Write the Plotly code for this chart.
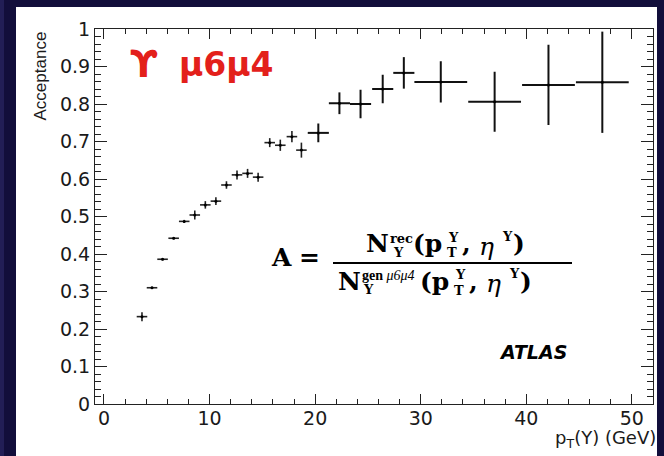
import plotly.graph_objects as go

# ---------------- data ----------------
pt = [3.6, 4.55, 5.55, 6.6, 7.6, 8.6, 9.6, 10.6, 11.6, 12.6, 13.6, 14.6,
      15.7, 16.7, 17.8, 18.7, 20.3, 22.3, 24.3, 26.4, 28.4,
      31.9, 37.0, 42.1, 47.2]
acc = [0.233, 0.31, 0.386, 0.442, 0.487, 0.504, 0.531, 0.541, 0.584, 0.611, 0.615, 0.605,
       0.697, 0.690, 0.713, 0.677, 0.723, 0.802, 0.800, 0.840, 0.883,
       0.859, 0.806, 0.851, 0.858]
pt_err = [0.5] * 16 + [1.0] * 5 + [2.5] * 4
acc_err = [0.012, 0.003, 0.003, 0.003, 0.004, 0.012, 0.010, 0.010, 0.010, 0.012, 0.012, 0.012,
           0.012, 0.015, 0.015, 0.020, 0.025, 0.029, 0.038, 0.038, 0.042,
           0.055, 0.080, 0.107, 0.135]

x_ticks = [0, 10, 20, 30, 40, 50]
y_ticks = [0, 0.1, 0.2, 0.3, 0.4, 0.5, 0.6, 0.7, 0.8, 0.9, 1]
y_tick_text = ["0", "0.1", "0.2", "0.3", "0.4", "0.5", "0.6", "0.7", "0.8", "0.9", "1"]

# ---------------- layout geometry ----------------
W, H = 664, 456
L, R, T, B = 95, 11, 29, 52
NAVY = "#120e3b"
N_FINE = 16  # number of 1-GeV bins drawn with thinner error bars


def px(x):
    return (x - L) / (W - L - R)


def py(y):
    return (H - B - y) / (H - T - B)


fig = go.Figure()
fig.add_trace(go.Scatter(
    x=pt[:N_FINE], y=acc[:N_FINE], mode="markers",
    marker=dict(color="black", size=3),
    error_x=dict(type="data", array=pt_err[:N_FINE], width=0, thickness=1.6, color="#222"),
    error_y=dict(type="data", array=acc_err[:N_FINE], width=0, thickness=1.6, color="#222"),
    showlegend=False, hoverinfo="skip"))
fig.add_trace(go.Scatter(
    x=pt[N_FINE:], y=acc[N_FINE:], mode="markers",
    marker=dict(color="black", size=3),
    error_x=dict(type="data", array=pt_err[N_FINE:], width=0, thickness=2, color="#111"),
    error_y=dict(type="data", array=acc_err[N_FINE:], width=0, thickness=2, color="#111"),
    showlegend=False, hoverinfo="skip"))

tickfont = dict(family="DejaVu Sans", size=19, color="#1a1a1a")
fig.update_xaxes(range=[-0.85, 52.0], tickvals=x_ticks, ticks="inside", ticklen=10,
                 tickcolor="#222", tickwidth=1, mirror="allticks", showline=True,
                 linecolor="#222", linewidth=1, showgrid=False, zeroline=False,
                 tickfont=tickfont, ticklabelstandoff=-3,
                 minor=dict(dtick=2, ticks="inside", ticklen=5, tickcolor="#222", tickwidth=1))
fig.update_yaxes(range=[0, 1.0], tickvals=y_ticks, ticktext=y_tick_text, ticks="inside",
                 ticklen=12, tickcolor="#222", tickwidth=1, mirror="allticks", showline=True,
                 linecolor="#222", linewidth=1, showgrid=False, zeroline=False,
                 tickfont=tickfont,
                 minor=dict(dtick=0.02, ticks="inside", ticklen=6, tickcolor="#222", tickwidth=1))

shapes = [
    dict(type="rect", xref="paper", yref="paper", x0=px(16), x1=px(657), y0=py(7), y1=py(456),
         fillcolor="white", line=dict(width=0), layer="below"),
    dict(type="rect", xref="paper", yref="paper", x0=px(0), x1=px(4), y0=py(0), y1=py(456),
         fillcolor="#221e56", line=dict(width=0), layer="below"),
    # fraction line
    dict(type="line", xref="paper", yref="paper", x0=px(333), x1=px(572), y0=py(263), y1=py(263),
         line=dict(color="black", width=2)),
]

ann = []


def txt(s, x, y, size, family="DejaVu Serif", color="black", xanchor="left", yanchor="middle",
        textangle=0):
    ann.append(dict(text=s, x=px(x), y=py(y), xref="paper", yref="paper", showarrow=False,
                    xanchor=xanchor, yanchor=yanchor, textangle=textangle,
                    font=dict(family=family, size=size, color=color)))


# axis titles
txt("Acceptance", 40, 30, 17, family="Liberation Sans", color="#1a1a1a",
    xanchor="center", yanchor="top", textangle=-90)
txt("p<sub>T</sub>(Y) (GeV)", 658, 439, 18, family="DejaVu Sans", color="#1a1a1a",
    xanchor="right")

# red label
txt("<b>ϒ</b>", 128, 64, 37, family="DejaVu Sans", color="#e3201b")
txt("<b>μ6μ4</b>", 177, 64, 33, family="DejaVu Sans", color="#e3201b")

# ATLAS
txt("<b><i>ATLAS</i></b>", 497, 352, 19, family="DejaVu Sans", color="black")

# formula
BIG = 25
SM = 13
SF = "Liberation Serif"
txt("<b>A</b>", 269, 257, BIG)
txt("<b>=</b>", 297, 257, BIG)
# numerator
txt("<b>N</b>", 364, 244, BIG)
txt("<b>rec</b>", 388, 238, SM)
txt("<b>Y</b>", 391, 252, SM)
txt("<b>(p</b>", 411, 244, BIG)
txt("<b>T</b>", 445, 253, SM)
txt("<b>Y</b>", 446, 237, SM)
txt("<b>,</b>", 460, 244, BIG)
txt("<i>η</i>", 477, 246, BIG)
txt("<b>Y</b>", 500, 236, SM)
txt("<b>)</b>", 511, 244, BIG)
# denominator
txt("<b>N</b>", 336, 281, BIG)
txt("<b>gen</b> <i>μ6μ4</i>", 360, 275, SM + 1, family=SF)
txt("<b>Y</b>", 361, 289, SM)
txt("<b>(p</b>", 418, 281, BIG)
txt("<b>T</b>", 452, 290, SM)
txt("<b>Y</b>", 453, 274, SM)
txt("<b>,</b>", 467, 281, BIG)
txt("<i>η</i>", 484, 283, BIG)
txt("<b>Y</b>", 507, 273, SM)
txt("<b>)</b>", 518, 281, BIG)

fig.update_layout(
    width=W, height=H,
    margin=dict(l=L, r=R, t=T, b=B, pad=0),
    paper_bgcolor=NAVY, plot_bgcolor="rgba(0,0,0,0)",
    shapes=shapes, annotations=ann,
)

fig.write_html("out.html")
